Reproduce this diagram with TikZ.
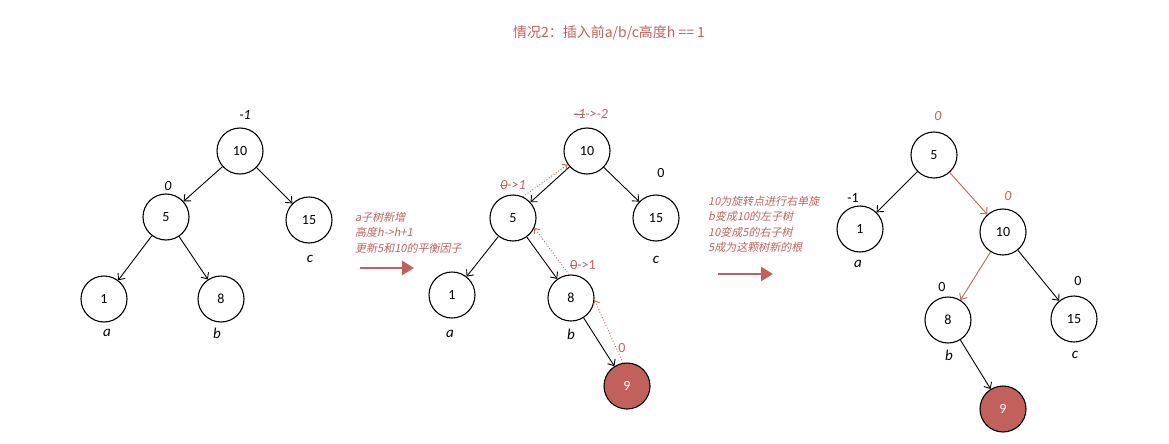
\documentclass[tikz,border=0pt]{standalone}
\usepackage{fontspec}
\setmainfont{Carlito}
\newfontfamily\cjk{Noto Sans CJK SC}
\newfontfamily\cjkit{Noto Sans CJK SC}[FakeSlant=0.2]
\newcommand\strk[1]{\setbox0\hbox{#1}\rlap{\rule[0.28em]{\wd0}{0.7pt}}\box0}
\usetikzlibrary{arrows.meta}
\definecolor{rd}{HTML}{C2615C}
\tikzset{
 tn/.style={circle,draw,line width=1.1pt,minimum size=46pt,inner sep=0pt,font=\fontsize{14}{16}\selectfont},
 hot/.style={tn,fill=rd,text=white},
 edge/.style={-{Straight Barb[length=5pt,width=9pt]},line width=0.9pt},
 redge/.style={edge,draw=rd},
 dotarr/.style={draw=rd,dotted,line width=0.9pt,-{Straight Barb[length=4pt,width=7pt]}},
 bal/.style={font=\fontsize{14}{16}\selectfont\itshape,inner sep=0pt},
 balr/.style={bal,text=rd},
 num/.style={font=\fontsize{14}{16}\selectfont,inner sep=0pt},
 lbl/.style={font=\fontsize{15}{17}\selectfont\itshape,inner sep=0pt},
 note/.style={font=\fontsize{11}{15.5}\selectfont\cjkit,text=rd,align=left,anchor=north west,inner sep=0pt},
 bigarr/.style={draw=rd,line width=2.8pt,-{Triangle[length=12pt,width=14pt]}},
}
\begin{document}
\begin{tikzpicture}[x=1pt,y=-1pt]
\useasboundingbox (0,0) rectangle (1169,444);
% title
\node[text=rd,font=\fontsize{14}{16}\selectfont\cjk] (title) at (609,33) {情况2：插入前a/b/c高度h == 1};

% left tree
\node[tn] (l10) at (240,151) {10};
\node[tn] (l5) at (166,217) {5};
\node[tn] (l15) at (309,220) {15};
\node[tn] (l1) at (104,299) {1};
\node[tn] (l8) at (221,299) {8};
\draw[edge] (l10) -- (l5);
\draw[edge] (l10) -- (l15);
\draw[edge] (l5) -- (l1);
\draw[edge] (l5) -- (l8);
\node[bal] (lb10) at (245,115) {-1};
\node[bal] (lb5) at (168,186) {0};
\node[lbl] (lc) at (310,259) {c};
\node[lbl] (la) at (107,333) {a};
\node[lbl] (lbb) at (217,333) {b};

% arrow 1
\node[note] (n1) at (355,212) {a子树新增\\高度h->h+1\\更新5和10的平衡因子};
\coordinate (a1s) at (360,268);
\coordinate (a1e) at (414,268);
\draw[bigarr] (a1s) -- (a1e);

% middle tree
\node[tn] (m10) at (587,151) {10};
\node[tn] (m5) at (513,218) {5};
\node[tn] (m15) at (656,218) {15};
\node[tn] (m1) at (452,295) {1};
\node[tn] (m8) at (571,298) {8};
\node[hot] (m9) at (627,386) {9};
\draw[edge] (m10) -- (m5);
\draw[edge] (m10) -- (m15);
\draw[edge] (m5) -- (m1);
\draw[edge] (m5) -- (m8);
\draw[edge] (m8) -- (m9);
\draw[dotarr] (m5.65) -- (m10.215);
\draw[dotarr] (m8.95) -- (m5.-25);
\draw[dotarr] (m9.100) -- (m8.-5);
\node[balr] (mb10) at (591,114) {\strk{-1}->-2};
\node[num] (mb15) at (661,173) {0};
\node[balr] (mb5) at (513,185) {\strk{0}->1};
\node[lbl] (mc) at (656,260) {c};
\node[lbl] (ma) at (450,334) {a};
\node[lbl] (mbb) at (571,334) {b};
\node[num,text=rd] (mb8) at (583,265) {\strk{0}->1};
\node[num,text=rd] (mb9) at (622,348) {0};

% arrow 2
\node[note] (n2) at (708,196) {10为旋转点进行右单旋\\b变成10的左子树\\10变成5的右子树\\5成为这颗树新的根};
\coordinate (a2s) at (718,274);
\coordinate (a2e) at (773,274);
\draw[bigarr] (a2s) -- (a2e);

% right tree
\node[tn] (r5) at (934,155) {5};
\node[tn] (r1) at (860,229) {1};
\node[tn] (r10) at (1003,232) {10};
\node[tn] (r8) at (948,320) {8};
\node[tn] (r15) at (1074,319) {15};
\node[hot] (r9) at (1003,409) {9};
\draw[edge] (r5) -- (r1);
\draw[redge] (r5) -- (r10);
\draw[redge] (r10) -- (r8);
\draw[edge] (r10) -- (r15);
\draw[edge] (r8) -- (r9);
\node[balr] (rb5) at (938,116) {0};
\node[num] (rb1) at (853,198) {-1};
\node[balr] (rb10) at (1008,196) {0};
\node[lbl] (ra) at (858,264) {a};
\node[num] (rb8) at (942,287) {0};
\node[num] (rb15) at (1078,281) {0};
\node[lbl] (rbb) at (949,355) {b};
\node[lbl] (rc) at (1075,355) {c};
\end{tikzpicture}
\end{document}
